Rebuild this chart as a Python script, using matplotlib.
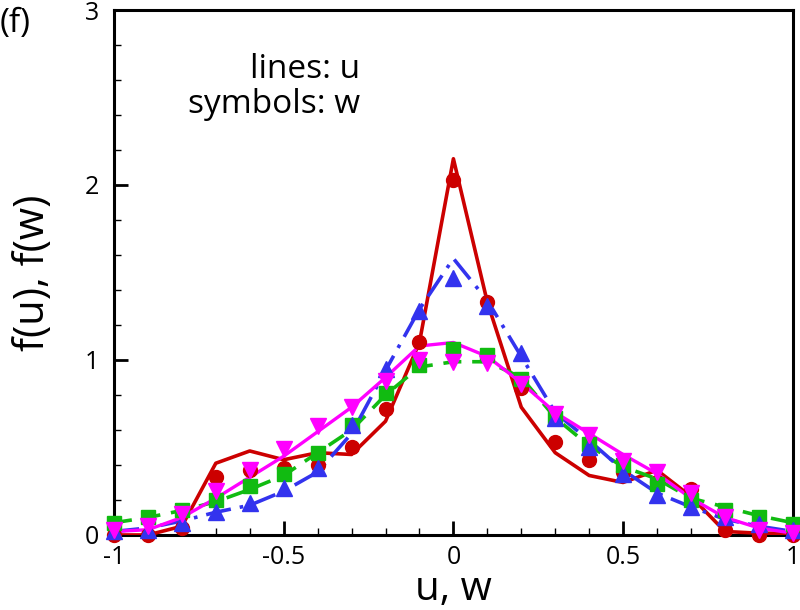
import numpy as np
import matplotlib
matplotlib.use("Agg")
from matplotlib import pyplot as plt
from matplotlib.ticker import MultipleLocator

x = np.round(np.arange(-1.0, 1.01, 0.1), 1)

# lines: u
red_u = [0.0, 0.0, 0.05, 0.41, 0.48, 0.43, 0.47, 0.46, 0.65, 1.10, 2.15,
         1.33, 0.73, 0.47, 0.34, 0.30, 0.37, 0.22, 0.02, 0.01, 0.01]
blue_u = [0.02, 0.04, 0.08, 0.13, 0.17, 0.25, 0.36, 0.58, 0.94, 1.29, 1.58,
          1.34, 1.02, 0.70, 0.54, 0.37, 0.24, 0.16, 0.09, 0.05, 0.02]
green_u = [0.07, 0.10, 0.14, 0.19, 0.26, 0.34, 0.47, 0.60, 0.80, 0.96, 0.99,
           0.99, 0.90, 0.67, 0.51, 0.39, 0.32, 0.21, 0.16, 0.11, 0.07]
mag_u = [0.02, 0.03, 0.10, 0.21, 0.33, 0.45, 0.59, 0.73, 0.90, 1.08, 1.10,
         1.02, 0.87, 0.70, 0.58, 0.46, 0.35, 0.21, 0.10, 0.04, 0.01]

# symbols: w
red_w = [0.0, 0.0, 0.04, 0.33, 0.37, 0.38, 0.40, 0.50, 0.72, 1.10, 2.03,
         1.33, 0.84, 0.53, 0.43, 0.36, 0.30, 0.26, 0.03, 0.0, 0.0]
blue_w = [0.02, 0.03, 0.07, 0.13, 0.18, 0.27, 0.38, 0.63, 0.95, 1.28, 1.47,
          1.31, 1.04, 0.67, 0.50, 0.35, 0.23, 0.16, 0.10, 0.06, 0.03]
green_w = [0.07, 0.10, 0.14, 0.20, 0.28, 0.35, 0.47, 0.63, 0.81, 0.97, 1.06,
           1.03, 0.89, 0.67, 0.52, 0.40, 0.29, 0.20, 0.14, 0.10, 0.06]
mag_w = [0.03, 0.05, 0.12, 0.25, 0.37, 0.49, 0.62, 0.73, 0.88, 1.00, 0.99,
         0.98, 0.86, 0.69, 0.57, 0.42, 0.36, 0.24, 0.10, 0.03, 0.01]

plt.rcParams['font.family'] = ['Open Sans', 'DejaVu Sans']

fig = plt.figure(figsize=(8, 6.1), dpi=100)
ax = fig.add_axes([0.1425, 0.123, 0.8485, 0.8606])

red = '#cc0000'
blue = '#3333ee'
green = '#11bb11'
mag = '#ff00ff'

ax.plot(x, red_u, color=red, lw=2.6, zorder=3)
ax.plot(x, green_u, color=green, lw=2.6, ls=(0, (5, 3)), zorder=3)
ax.plot(x, blue_u, color=blue, lw=2.6, ls=(0, (7, 2.5, 1, 2.5)), zorder=3)
ax.plot(x, mag_u, color=mag, lw=2.4, zorder=3)

ax.plot(x, red_w, 'o', color=red, ms=10, zorder=4, clip_on=False)
ax.plot(x, green_w, 's', color=green, ms=9.5, zorder=4, clip_on=False)
ax.plot(x, blue_w, '^', color=blue, ms=11, zorder=4, clip_on=False)
ax.plot(x, mag_w, 'v', color=mag, ms=11, zorder=4, clip_on=False)

ax.set_xlim(-1, 1)
ax.set_ylim(0, 3)
ax.xaxis.set_major_locator(MultipleLocator(0.5))
ax.xaxis.set_minor_locator(MultipleLocator(0.1))
ax.yaxis.set_major_locator(MultipleLocator(1))
ax.yaxis.set_minor_locator(MultipleLocator(0.2))
ax.xaxis.set_major_formatter(lambda v, p: '%g' % v)
ax.yaxis.set_major_formatter(lambda v, p: '%g' % v)
ax.tick_params(which='both', direction='in', top=False, right=False, labelsize=18)
ax.tick_params(axis='y', pad=11)
ax.tick_params(axis='x', pad=7)
ax.tick_params(which='major', length=10, width=2)
ax.tick_params(which='minor', length=5, width=1)
for s in ax.spines.values():
    s.set_linewidth(2.2)

ax.set_xlabel('u, w', fontsize=29, labelpad=0)
ax.set_ylabel('f(u), f(w)', fontsize=30, labelpad=22)

ax.text(0.362, 0.870, 'lines: u', transform=ax.transAxes, ha='right', va='baseline', fontsize=24)
ax.text(0.362, 0.804, 'symbols: w', transform=ax.transAxes, ha='right', va='baseline', fontsize=24)
fig.text(0.0, 0.962, '(f)', fontsize=24, va='center')

fig.savefig('out.png', dpi=100)
